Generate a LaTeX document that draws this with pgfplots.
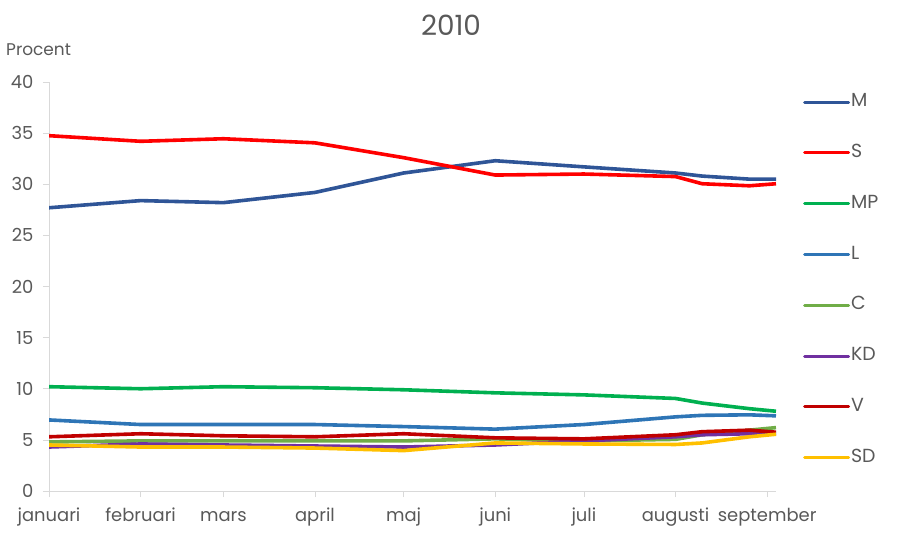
\documentclass[border=0pt]{standalone}
\usepackage{fontspec}
\setmainfont{Poppins}
\usepackage{pgfplots}
\pgfplotsset{compat=1.18}
\usepackage{pgfplotstable}
\definecolor{cM}{HTML}{2F5597}
\definecolor{cS}{HTML}{FF0000}
\definecolor{cMP}{HTML}{00B050}
\definecolor{cL}{HTML}{2E75B6}
\definecolor{cC}{HTML}{70AD47}
\definecolor{cKD}{HTML}{7030A0}
\definecolor{cV}{HTML}{C00000}
\definecolor{cSD}{HTML}{FFC000}
\definecolor{txt}{HTML}{595959}
\definecolor{gridc}{HTML}{D9D9D9}
\pgfplotstableread{
x M S MP L C KD V SD
0 27.7 34.75 10.2 6.95 4.8 4.3 5.3 4.5
31 28.4 34.2 10.0 6.5 4.9 4.6 5.6 4.3
59 28.2 34.45 10.2 6.5 4.9 4.5 5.4 4.3
90 29.2 34.05 10.1 6.5 4.9 4.4 5.3 4.2
120 31.1 32.6 9.9 6.3 4.9 4.3 5.6 3.95
151 32.3 30.9 9.6 6.05 5.1 4.5 5.2 4.7
181 31.7 31.0 9.4 6.5 4.9 4.9 5.1 4.6
212 31.1 30.75 9.05 7.25 5.05 5.3 5.5 4.55
221 30.8 30.05 8.6 7.4 5.5 5.5 5.8 4.7
237 30.5 29.85 8.05 7.45 5.95 5.6 5.95 5.3
246 30.5 30.05 7.8 7.35 6.2 5.6 5.75 5.55
}\data
\begin{document}
\begin{tikzpicture}
\useasboundingbox (0,0) rectangle (900bp,550bp);
\node[font=\fontsize{28}{33}\selectfont, text=txt] at (451bp,525bp) {2010};
\node[font=\fontsize{17}{20}\selectfont, text=txt, anchor=west, inner sep=0pt] at (6bp,500bp) {Procent};
\begin{axis}[
  at={(49bp,59bp)}, anchor=south west,
  scale only axis, width=727bp, height=409bp,
  xmin=0, xmax=246, ymin=0, ymax=40,
  xtick={0,31,59,90,120,151,181,212,243},
  xticklabels={januari,februari,mars,april,maj,juni,juli,augusti,september},
  ytick={0,5,...,40},
  axis x line*=bottom, axis y line*=left,
  axis line style={draw=gridc, line width=0.75bp, -},
  tick style={draw=gridc, line width=0.75bp},
  tick align=outside,
  major tick length=6bp,
  /pgf/number format/assume math mode=true,
  ticklabel style={font=\fontsize{18}{21}\selectfont, text=txt},
  yticklabel style={xshift=-6bp},
  xticklabel style={text height=13bp, text depth=4bp, yshift=-8bp},
  legend style={at={(1.037,0.972)}, anchor=north west, draw=none, fill=none,
    font=\fontsize{19}{22}\selectfont, text=txt, inner sep=0pt, row sep=33.8bp,
    nodes={inner sep=1pt, text height=12bp, text depth=3bp}},
  legend cell align=left,
  legend image code/.code={\draw[#1, line width=3bp, line cap=round] (0bp,0bp) -- (44bp,0bp);},
  every axis plot/.append style={line width=3.6bp, line join=round, no markers},
]
\addplot[cM] table[x=x, y=M] {\data};
\addplot[cS] table[x=x, y=S] {\data};
\addplot[cMP] table[x=x, y=MP] {\data};
\addplot[cL] table[x=x, y=L] {\data};
\addplot[cC] table[x=x, y=C] {\data};
\addplot[cKD] table[x=x, y=KD] {\data};
\addplot[cV] table[x=x, y=V] {\data};
\addplot[cSD] table[x=x, y=SD] {\data};
\legend{M,S,MP,L,C,KD,V,SD}
\end{axis}
\end{tikzpicture}
\end{document}
